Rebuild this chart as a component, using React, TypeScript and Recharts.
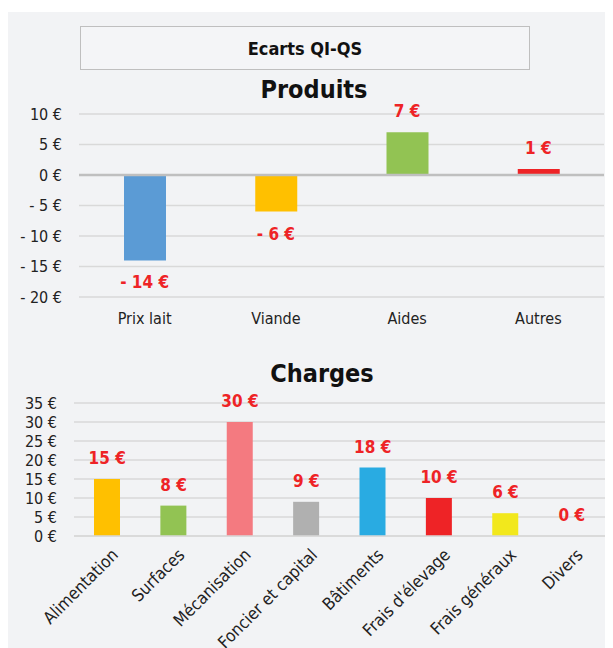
import React from 'react';
import { ComposedChart, Bar, Line, XAxis, YAxis, CartesianGrid, Cell, LabelList, ReferenceLine } from 'recharts';

const produitsCategories = ['Prix lait', 'Viande', 'Aides', 'Autres'];
const produitsValues = [-14, -6, 7, 1];
const produitsColors = ['#5b9bd5', '#ffc000', '#92c353', '#ee2326'];
const produitsTicks = [-20, -15, -10, -5, 0, 5, 10];

const chargesCategories = ['Alimentation', 'Surfaces', 'Mécanisation', 'Foncier et capital', 'Bâtiments', "Frais d'élevage", 'Frais généraux', 'Divers'];
const chargesValues = [15, 8, 30, 9, 18, 10, 6, 0];
const chargesColors = ['#ffc000', '#92c353', '#f47a80', '#b0b0b0', '#29abe2', '#ee2326', '#f2e81c', '#9e480e'];
const chargesTicks = [0, 5, 10, 15, 20, 25, 30, 35];

const FONT = "'Liberation Sans Narrow', 'DejaVu Sans Condensed', Roboto, sans-serif";
const fmt = (v: number) => (v < 0 ? `- ${Math.abs(v)} €` : `${v} €`);

const produitsData = produitsCategories.map((c, i) => ({ name: c, value: produitsValues[i] }));
const chargesData = chargesCategories.map((c, i) => ({ name: c, value: chargesValues[i] }));

const ValueLabel = (props: any) => {
  const { x, y, value } = props;
  const cy = value < 0 ? y + 22 : y - 21;
  return (
    <text x={x} y={cy} dy="0.35em" textAnchor="middle" fill="#ee2326" fontWeight="bold" fontSize={17} fontFamily={FONT}>
      {fmt(value)}
    </text>
  );
};

const RotTick = (props: any) => {
  const { x, y, payload } = props;
  const tx = x + 12;
  const ty = y + 12;
  return (
    <text x={tx} y={ty} textAnchor="end" fontSize={17} fill="#222" fontFamily={FONT} transform={`rotate(-45, ${tx}, ${ty})`}>
      {payload.value}
    </text>
  );
};

export default function App() {
  return (
    <div style={{ position: 'relative', width: 605, height: 640, fontFamily: FONT }}>
      <div style={{ position: 'absolute', left: 0, top: 4, width: 605, height: 636, background: '#f2f3f5' }} />
      <div style={{ position: 'absolute', left: 72, top: 18, width: 448, height: 42, border: '1px solid #bfbfbf', background: '#f4f5f7', display: 'flex', alignItems: 'center', justifyContent: 'center', fontWeight: 'bold', fontSize: 18, color: '#111' }}>
        Ecarts QI-QS
      </div>
      <div style={{ position: 'absolute', left: 206, top: 67, width: 200, textAlign: 'center', fontWeight: 'bold', fontSize: 25, lineHeight: '30px', color: '#111' }}>
        Produits
      </div>
      <div style={{ position: 'absolute', left: 0, top: 92 }}>
        <ComposedChart width={605} height={240} data={produitsData} margin={{ top: 14, right: 9, left: 0, bottom: 13 }}>
          <CartesianGrid vertical={false} stroke="#d9d9d9" strokeWidth={1.5} />
          <XAxis dataKey="name" axisLine={false} tickLine={false} tickSize={0} tickMargin={16} height={30} tick={{ fontSize: 16, fill: '#222', fontFamily: FONT }} interval={0} />
          <YAxis domain={[-20, 10]} ticks={produitsTicks} tickFormatter={fmt} axisLine={false} tickLine={false} tickSize={0} tickMargin={17} width={71} tick={{ fontSize: 16, fill: '#222', fontFamily: FONT }} />
          <ReferenceLine y={0} stroke="#bfbfbf" strokeWidth={2.5} />
          <Bar dataKey="value" barSize={42} isAnimationActive={false}>
            {produitsData.map((d, i) => <Cell key={d.name} fill={produitsColors[i]} />)}
          </Bar>
          <Line dataKey="value" stroke="none" dot={false} activeDot={false} isAnimationActive={false}>
            <LabelList dataKey="value" content={ValueLabel} />
          </Line>
        </ComposedChart>
      </div>
      <div style={{ position: 'absolute', left: 214, top: 351, width: 200, textAlign: 'center', fontWeight: 'bold', fontSize: 25, lineHeight: '30px', color: '#111' }}>
        Charges
      </div>
      <div style={{ position: 'absolute', left: 0, top: 382 }}>
        <ComposedChart width={605} height={258} data={chargesData} margin={{ top: 13, right: 8, left: 0, bottom: 0 }}>
          <CartesianGrid vertical={false} stroke="#d9d9d9" strokeWidth={1.5} />
          <XAxis dataKey="name" axisLine={{ stroke: '#d9d9d9', strokeWidth: 1.5 }} tickLine={false} height={112} tick={<RotTick />} interval={0} />
          <YAxis domain={[0, 35]} ticks={chargesTicks} tickFormatter={fmt} axisLine={false} tickLine={false} tickSize={0} tickMargin={17} width={66} tick={{ fontSize: 16, fill: '#222', fontFamily: FONT }} interval={0} />
          <Bar dataKey="value" barSize={26} isAnimationActive={false}>
            {chargesData.map((d, i) => <Cell key={d.name} fill={chargesColors[i]} />)}
          </Bar>
          <Line dataKey="value" stroke="none" dot={false} activeDot={false} isAnimationActive={false}>
            <LabelList dataKey="value" content={ValueLabel} />
          </Line>
        </ComposedChart>
      </div>
    </div>
  );
}
